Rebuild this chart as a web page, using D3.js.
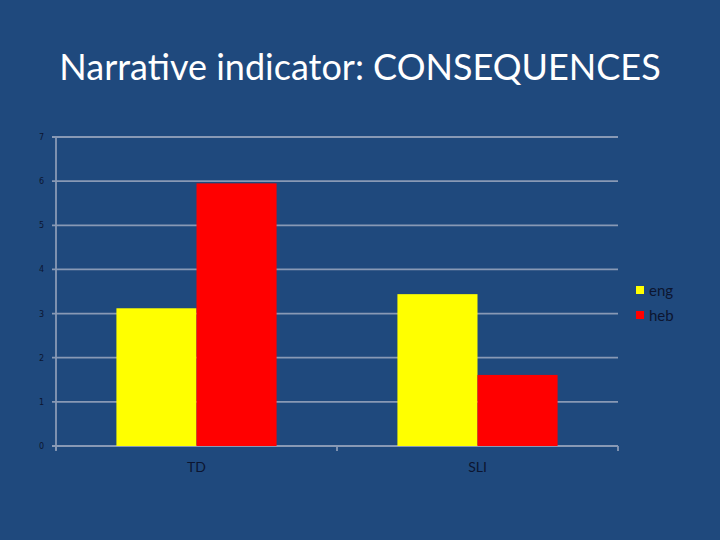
<!DOCTYPE html>
<html><head><meta charset="utf-8">
<script src="https://cdn.jsdelivr.net/npm/d3@7"></script>
<style>html,body{margin:0;padding:0;background:#1F497D;}</style>
</head><body><svg id="c" width="720" height="540"></svg>
<script>
const categories = ["TD", "SLI"];
const seriesNames = ["eng", "heb"];
const engValues = [3.12, 3.44];
const hebValues = [5.95, 1.61];
const yTicks = [0, 1, 2, 3, 4, 5, 6, 7];
const colors = ["#FFFF00", "#FF0000"];

const svg = d3.select("#c");
svg.append("rect").attr("width",720).attr("height",540).attr("fill","#1F497D");

svg.append("text").attr("x",360).attr("y",80).attr("text-anchor","middle")
  .attr("font-family","Lato, 'Open Sans', sans-serif").attr("font-size",36)
  .attr("fill","#FFFFFF").text("Narrative indicator: CONSEQUENCES");

const pLeft=56, pRight=618, pTop=137, pBottom=446;
const x = d3.scaleBand().domain(categories).range([pLeft,pRight]).paddingInner(0.43).paddingOuter(0.215);
const x0 = d3.scaleBand().domain(categories).range([pLeft,pRight]);
const xs = d3.scaleBand().domain(seriesNames).range([0,x.bandwidth()]);
const y = d3.scaleLinear().domain([0,7]).range([pBottom,pTop]);
const gridColor = "#8899B5";

// gridlines
svg.append("g").selectAll("line").data(yTicks).join("line")
  .attr("x1",pLeft-4).attr("x2",pRight).attr("y1",d=>y(d)).attr("y2",d=>y(d))
  .attr("stroke",gridColor).attr("stroke-width",1.8);

// y axis line
svg.append("line").attr("x1",pLeft).attr("x2",pLeft).attr("y1",pTop).attr("y2",pBottom+4)
  .attr("stroke",gridColor).attr("stroke-width",1.8);

// x category ticks
const sepTicks = [pLeft, x0("SLI"), pRight];
svg.append("g").selectAll("line").data(sepTicks).join("line")
  .attr("x1",d=>d).attr("x2",d=>d).attr("y1",pBottom).attr("y2",pBottom+5)
  .attr("stroke",gridColor).attr("stroke-width",1.8);

// y tick labels
svg.append("g").selectAll("text").data(yTicks).join("text")
  .attr("x",44).attr("y",d=>y(d)+3).attr("text-anchor","end")
  .attr("font-family","'DejaVu Sans', sans-serif").attr("font-size",8)
  .attr("fill","#0C1530").text(d=>d);

// bars
const data = categories.map((c,i)=>({c, vals:[engValues[i], hebValues[i]]}));
const g = svg.append("g");
data.forEach(d=>{
  d.vals.forEach((v,j)=>{
    g.append("rect").attr("x",x(d.c)+xs(seriesNames[j])).attr("width",xs.bandwidth())
      .attr("y",y(v)).attr("height",pBottom-y(v)).attr("fill",colors[j]);
  });
});

// category labels
svg.append("g").selectAll("text").data(categories).join("text")
  .attr("x",d=>x(d)+x.bandwidth()/2).attr("y",472).attr("text-anchor","middle")
  .attr("font-family","Lato, 'Open Sans', sans-serif").attr("font-size",14)
  .attr("fill","#0C1530").text(d=>d);

// legend
const lg = svg.append("g");
seriesNames.forEach((s,i)=>{
  const yy = 291 + i*25;
  lg.append("rect").attr("x",636).attr("y",yy-5).attr("width",8).attr("height",8).attr("fill",colors[i]);
  lg.append("text").attr("x",649).attr("y",yy+5).attr("font-family","Lato, 'Open Sans', sans-serif")
    .attr("font-size",15).attr("fill","#0C1530").text(s);
});
</script></body></html>
